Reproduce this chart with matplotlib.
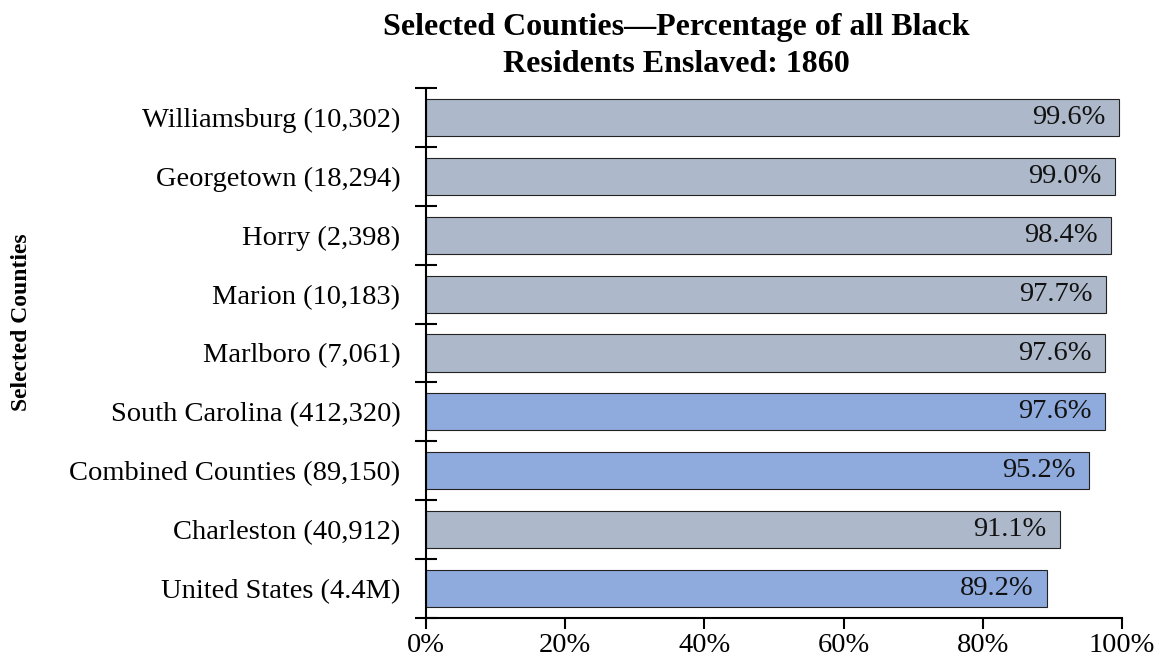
import matplotlib
matplotlib.use("Agg")
import matplotlib.pyplot as plt
from matplotlib.ticker import FixedLocator, NullFormatter

plt.rcParams['font.family'] = ['Liberation Serif', 'DejaVu Serif']

labels = ["Williamsburg (10,302)", "Georgetown (18,294)", "Horry (2,398)",
          "Marion (10,183)", "Marlboro (7,061)", "South Carolina (412,320)",
          "Combined Counties (89,150)", "Charleston (40,912)", "United States (4.4M)"]
values = [99.6, 99.0, 98.4, 97.7, 97.6, 97.6, 95.2, 91.1, 89.2]
is_aggregate = [False, False, False, False, False, True, True, False, True]
xticks = [0, 20, 40, 60, 80, 100]

county_color = "#ADB9CA"
aggregate_color = "#8FAADC"

fig = plt.figure(figsize=(11.58, 6.62), dpi=100)
ax = fig.add_axes([426/1158, 1 - 618/662, (1122-426)/1158, (618-88)/662])

n = len(labels)
ypos = list(range(n))[::-1]
colors = [aggregate_color if a else county_color for a in is_aggregate]
ax.barh(ypos, values, height=0.63, color=colors, edgecolor="#222222", linewidth=0.8)

for y, v in zip(ypos, values):
    ax.text(v - 1.9, y, f"{v:.1f}%", ha="right", va="center", fontsize=20.5, color="#111111")

ax.set_xlim(0, 100)
ax.set_ylim(-0.5, n - 0.5)
ax.set_xticks(xticks)
ax.set_xticklabels([f"{t}%" for t in xticks], fontsize=20.5)
ax.set_yticks(ypos)
ax.set_yticklabels(labels, fontsize=20.5)
ax.tick_params(axis="y", which="major", length=0, pad=18.5)
ax.yaxis.set_minor_locator(FixedLocator([i - 0.5 for i in range(n + 1)]))
ax.yaxis.set_minor_formatter(NullFormatter())
ax.tick_params(axis="y", which="minor", direction="inout", length=16, width=1.5)
ax.tick_params(axis="x", direction="out", length=8, width=1.5, pad=3)

for s in ("top", "right"):
    ax.spines[s].set_visible(False)
for s in ("left", "bottom"):
    ax.spines[s].set_linewidth(1.5)

fig.text(676/1158, 1 - 46/662, "Selected Counties\u2014Percentage of all Black\nResidents Enslaved: 1860",
         ha="center", va="center", fontsize=23, fontweight="bold", linespacing=1.36)
fig.text(22/1158, 1 - 322/662, "Selected Counties", rotation=90, ha="center", va="center",
         fontsize=17, fontweight="bold")

fig.savefig("out.png", dpi=100)
